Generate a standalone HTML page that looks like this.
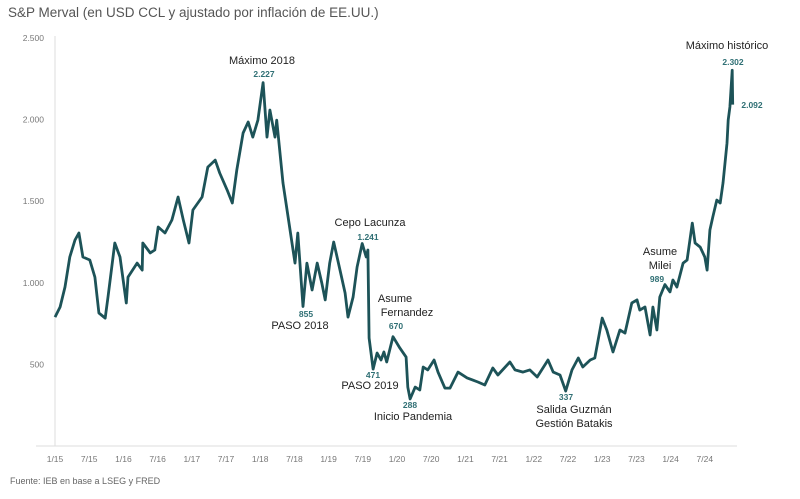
<!DOCTYPE html>
<html><head><meta charset="utf-8"><style>
body{margin:0;background:#fff;width:800px;height:499px;overflow:hidden;font-family:"Liberation Sans",sans-serif}
svg{display:block}
</style></head><body>
<svg id="chart" width="800" height="499" viewBox="0 0 800 499">
<text x="8" y="17" font-size="13.5" fill="#555">S&amp;P Merval (en USD CCL y ajustado por inflación de EE.UU.)</text>
<line x1="55" y1="36" x2="55" y2="446" stroke="#ddd" stroke-width="1"/>
<line x1="36" y1="446" x2="737" y2="446" stroke="#ddd" stroke-width="1"/>
<g id="yticks"></g><g id="xticks"></g>
<path id="series" fill="none" stroke="#1d5358" stroke-width="2.8" stroke-linejoin="round"/>
<g id="ann" font-size="11" fill="#222" text-anchor="middle"></g>
<text x="10" y="484" font-size="9" fill="#666">Fuente: IEB en base a LSEG y FRED</text>
</svg>
<script>
const months=[0,0.9,1.75,2.6,3.5,4.2,4.9,6.1,7.0,7.7,8.8,9.3,10.5,11.4,12.5,12.8,14.4,15.3,15.4,16.7,17.5,18.1,19.3,20.5,21.6,22.5,23.5,24.2,25.8,26.8,28.1,28.9,30.2,31.1,31.9,33.0,33.9,34.7,35.6,36.5,37.2,37.7,38.6,38.9,40.0,40.9,42.1,42.6,43.5,44.2,45.1,46.0,46.8,47.4,48.2,48.9,50.0,50.9,51.4,52.3,53.0,53.9,54.6,54.9,55.1,55.8,56.5,57.2,57.7,58.2,59.3,60.5,61.6,61.9,62.3,63.2,64.0,64.6,65.4,66.5,67.2,68.4,69.3,70.7,72.3,73.3,74.2,75.4,76.8,77.7,79.8,80.7,82.1,83.3,84.6,86.5,87.4,88.6,89.6,90.7,91.8,92.6,93.9,94.7,96.0,96.8,97.9,99.1,100.0,101.2,102.1,102.6,103.5,104.4,104.9,105.6,106.1,107.0,107.9,108.4,109.1,110.2,110.9,111.8,112.3,113.2,114.0,114.4,114.9,115.4,116.1,116.7,117.2,117.9,118.1,118.4,118.8,118.9];
const values=[790,852,974,1158,1262,1305,1158,1140,1035,815,784,913,1244,1158,876,1035,1121,1078,1244,1183,1201,1342,1305,1385,1526,1385,1244,1446,1526,1709,1752,1673,1569,1489,1691,1918,1985,1893,1997,2227,1893,2059,1893,1997,1611,1403,1121,1305,855,1121,956,1121,999,895,1121,1250,1078,937,790,913,1097,1241,1158,1201,661,471,570,527,576,515,670,600,545,361,288,361,343,484,466,527,453,355,355,453,417,404,392,374,478,435,515,466,453,466,423,527,453,435,337,466,539,484,527,539,784,711,576,711,692,876,895,833,852,680,852,711,913,989,944,1017,974,1121,1140,1366,1244,1219,1158,1078,1323,1403,1507,1489,1611,1856,1997,2077,2302,2092];
const yTicks=[500,1000,1500,2000,2500];
const yTickLabels=["500","1.000","1.500","2.000","2.500"];
const xTickLabels=["1/15","7/15","1/16","7/16","1/17","7/17","1/18","7/18","1/19","7/19","1/20","7/20","1/21","7/21","1/22","7/22","1/23","7/23","1/24","7/24"];
const ns="http://www.w3.org/2000/svg";
const xS=m=>55+m*5.7;
const yS=v=>446-v*81.6/500;
const yt=document.getElementById('yticks');
yTicks.forEach((v,i)=>{const t=document.createElementNS(ns,'text');


t.setAttribute('x',44);t.setAttribute('y',yS(v)+3);t.setAttribute('font-size','8.5');t.setAttribute('fill','#777');t.setAttribute('text-anchor','end');t.textContent=yTickLabels[i];yt.appendChild(t);});
const xt=document.getElementById('xticks');
xTickLabels.forEach((l,i)=>{const t=document.createElementNS(ns,'text');


t.setAttribute('x',xS(i*6));t.setAttribute('y',462);t.setAttribute('font-size','8.5');t.setAttribute('fill','#777');t.setAttribute('text-anchor','middle');t.textContent=l;xt.appendChild(t);});
document.getElementById('series').setAttribute('d',months.map((m,i)=>(i?'L':'M')+xS(m).toFixed(1)+','+yS(values[i]).toFixed(1)).join(''));
const anns=[["Máximo 2018",262,64,0],["2.227",264,77,1],["Cepo Lacunza",370,226,0],["1.241",368,240,1],["855",306,317,1],["PASO 2018",300,329,0],["Asume",395,302,0],["Fernandez",407,316,0],["670",396,329,1],["471",373,378,1],["PASO 2019",370,389,0],["288",410,408,1],["Inicio Pandemia",413,420,0],["337",566,400,1],["Salida Guzmán",574,413,0],["Gestión Batakis",574,427,0],["Asume",660,255,0],["Milei",660,269,0],["989",657,282,1],["Máximo histórico",727,49,0],["2.302",733,65,1],["2.092",752,108,1]];
const ag=document.getElementById('ann');
anns.forEach(a=>{const t=document.createElementNS(ns,'text');


t.setAttribute('x',a[1]);t.setAttribute('y',a[2]);
if(a[3]){t.setAttribute('font-size','8.5');t.setAttribute('fill','#2f6f74');t.setAttribute('font-weight','bold');}
t.textContent=a[0];ag.appendChild(t);});
</script>
</body></html>
